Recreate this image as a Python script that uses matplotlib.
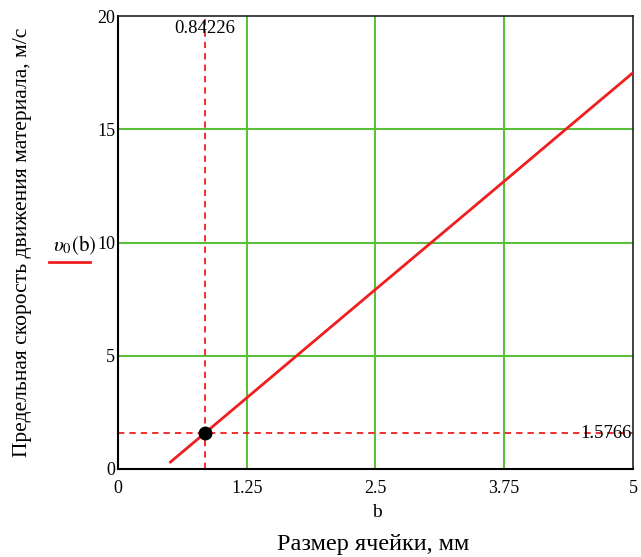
"""Mathcad-style plot: limiting material speed vs cell size."""

import matplotlib
matplotlib.use("Agg")
import matplotlib.pyplot as plt

# values
b_vals = [0.5, 1.25, 1.74, 2.5, 3.06, 3.75, 4.25, 5.0]
v_vals = [0.27, 3.14, 5.02, 7.93, 10.07, 12.71, 14.63, 17.5]
b_mark = 0.84226
v_mark = 1.5766
x_ticks = [0, 1.25, 2.5, 3.75, 5]
x_tick_labels = ["0", "1.25", "2.5", "3.75", "5"]
y_ticks = [0, 5, 10, 15, 20]

RED = "#f01e1e"
GREEN = "#5cbf3a"
SERIF = ["Liberation Serif", "DejaVu Serif"]

plt.rcParams["font.family"] = SERIF
plt.rcParams["mathtext.fontset"] = "stix"

fig = plt.figure(figsize=(6.41, 5.57), dpi=100)
ax = fig.add_axes([0.184, 0.158, 0.8035, 0.813])

ax.set_xlim(0, 5)
ax.set_ylim(0, 20)

for xv in x_ticks[1:-1]:
    ax.axvline(xv, color=GREEN, lw=1.5, zorder=1)
for yv in y_ticks[1:-1]:
    ax.axhline(yv, color=GREEN, lw=1.5, zorder=1)

ax.axvline(b_mark, color=RED, lw=1.3, ls=(0, (3.5, 2.8)), zorder=2)
ax.axhline(v_mark, color=RED, lw=1.3, ls=(0, (3.5, 2.8)), zorder=2)

ax.plot(b_vals, v_vals, color=RED, lw=2.0, zorder=3, solid_capstyle="butt")
ax.plot([b_mark], [v_mark], "o", color="black", ms=9, zorder=4)

ax.text(b_mark, 19.85, "0.84226", ha="center", va="top", fontsize=13.5)
ax.text(4.99, v_mark, "1.5766", ha="right", va="center", fontsize=13.5)

ax.set_xticks(x_ticks)
ax.set_xticklabels(x_tick_labels)
ax.set_yticks(y_ticks)
ax.tick_params(length=0, labelsize=13, pad=2)
ax.tick_params(axis="x", pad=8)

for side in ["left", "bottom"]:
    ax.spines[side].set_linewidth(1.5)
for side in ["top", "right"]:
    ax.spines[side].set_linewidth(1.2)
    ax.spines[side].set_color("#222222")

# x labels: variable name and caption
fig.text(0.588, 0.08, "b", ha="center", va="center", fontsize=14)
fig.text(0.582, 0.022, "Размер ячейки, мм", ha="center", va="center",
         fontsize=17.5)

# y caption
fig.text(0.035, 0.565, "Предельная скорость движения материала, м/с",
         ha="center", va="center", rotation=90, fontsize=15.5)

# legend trace
fig.text(0.117, 0.56, r"$\upsilon_0(\mathrm{b})$", ha="center", va="center",
         fontsize=15)
fig.add_artist(plt.Line2D([0.077, 0.140], [0.53, 0.53], color=RED, lw=2,
                          transform=fig.transFigure))

fig.savefig("out.png", dpi=100)
